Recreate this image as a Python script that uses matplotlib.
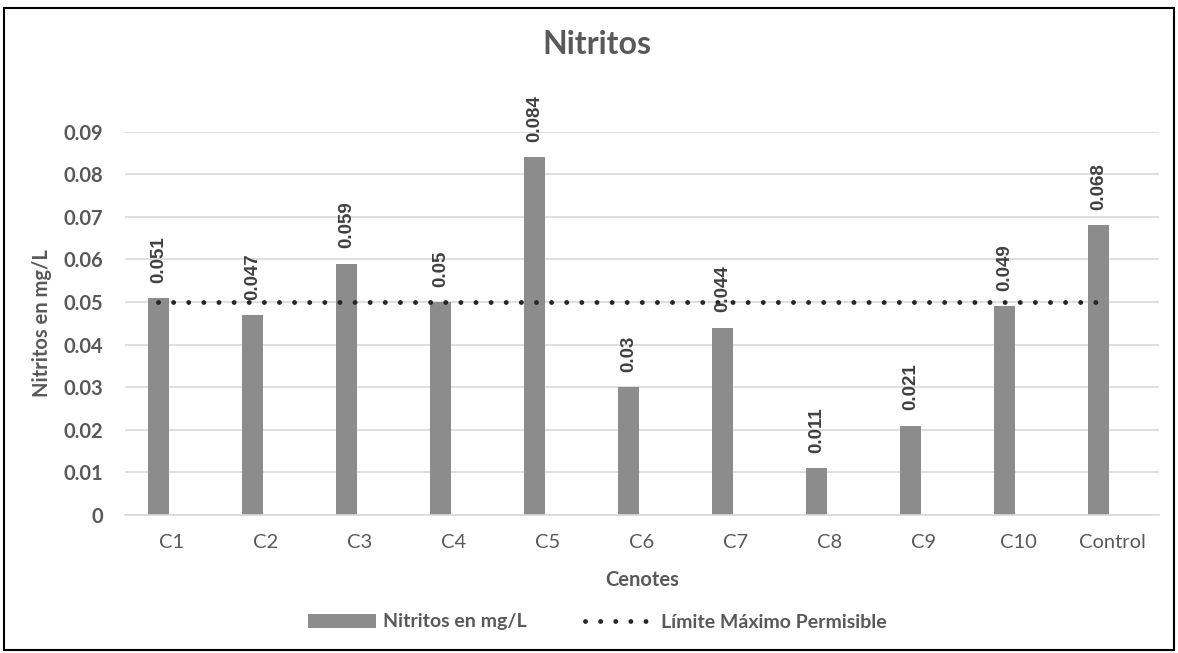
import numpy as np
import matplotlib
matplotlib.use("Agg")
import matplotlib.pyplot as plt
from matplotlib.patches import Rectangle

# datos
cenotes = ["C1", "C2", "C3", "C4", "C5", "C6", "C7", "C8", "C9", "C10", "Control"]
nitritos = [0.051, 0.047, 0.059, 0.05, 0.084, 0.03, 0.044, 0.011, 0.021, 0.049, 0.068]
etiquetas = ["0.051", "0.047", "0.059", "0.05", "0.084", "0.03", "0.044", "0.011", "0.021", "0.049", "0.068"]
limite = [0.05] * len(cenotes)
yticks = [0, 0.01, 0.02, 0.03, 0.04, 0.05, 0.06, 0.07, 0.08, 0.09]
yticklabels = ["0", "0.01", "0.02", "0.03", "0.04", "0.05", "0.06", "0.07", "0.08", "0.09"]

gris_txt = "#595959"
gris_bar = "#8c8c8c"
plt.rcParams['font.family'] = ['Lato', 'DejaVu Sans']

fig = plt.figure(figsize=(11.78, 6.53), dpi=100)
ax = fig.add_axes([125/1178, 1-515/653, (1159-125)/1178, (515-131.7)/653])

x = np.arange(len(cenotes))
off = -0.145
barras = ax.bar(x+off, nitritos, width=0.22, color=gris_bar, zorder=2, label="Nitritos en mg/L")
linea, = ax.plot(x+off, limite, color="#262626", lw=3.5, ls=(0, (0.01, 3.1)), dash_capstyle='round',
                 zorder=3, label="Límite Máximo Permisible")

for xi, v, t in zip(x+off, nitritos, etiquetas):
    ax.annotate(t, (xi, v), xytext=(0, 11), textcoords="offset points", rotation=90,
                ha="center", va="bottom", fontsize=13.5, fontweight="bold", color="#404040",
                family=['Liberation Sans', 'DejaVu Sans'])

ax.set_xlim(-0.5, len(cenotes)-0.5)
ax.set_ylim(0, 0.09)
ax.set_yticks(yticks)
ax.set_yticklabels(yticklabels, fontsize=14.5, fontweight="bold", color=gris_txt)
ax.set_xticks(x)
ax.set_xticklabels(cenotes, fontsize=14.5, color=gris_txt)
ax.tick_params(axis='both', length=0)
ax.tick_params(axis='x', pad=14)
ax.tick_params(axis='y', pad=16)
ax.grid(axis='y', color="#d9d9d9", lw=1.2, zorder=0)
for s in ["top", "right", "left"]:
    ax.spines[s].set_visible(False)
ax.spines["bottom"].set_color("#d9d9d9")
ax.spines["bottom"].set_linewidth(1.2)

ax.set_xlabel("Cenotes", fontsize=14.5, fontweight="bold", color=gris_txt, labelpad=13)
ax.set_ylabel("Nitritos en mg/L", fontsize=14.5, fontweight="bold", color=gris_txt, labelpad=8)
fig.text(0.507, 1-45/653, "Nitritos", ha="center", va="center", fontsize=23,
         fontweight="bold", color=gris_txt)

leg = fig.legend([barras, linea], ["Nitritos en mg/L", "Límite Máximo Permisible"],
                 loc="center", bbox_to_anchor=(0.507, 1-622/653), ncol=2, frameon=False,
                 prop={'size': 14, 'weight': 'bold'}, handlelength=3.5, handleheight=0.7,
                 handletextpad=0.4, columnspacing=3.0, labelcolor=gris_txt)

fig.add_artist(Rectangle((4/1178, 1-650/653), 1170/1178, 642/653, transform=fig.transFigure,
                         fill=False, ec="black", lw=1.5))

fig.savefig("out.png", dpi=100)
